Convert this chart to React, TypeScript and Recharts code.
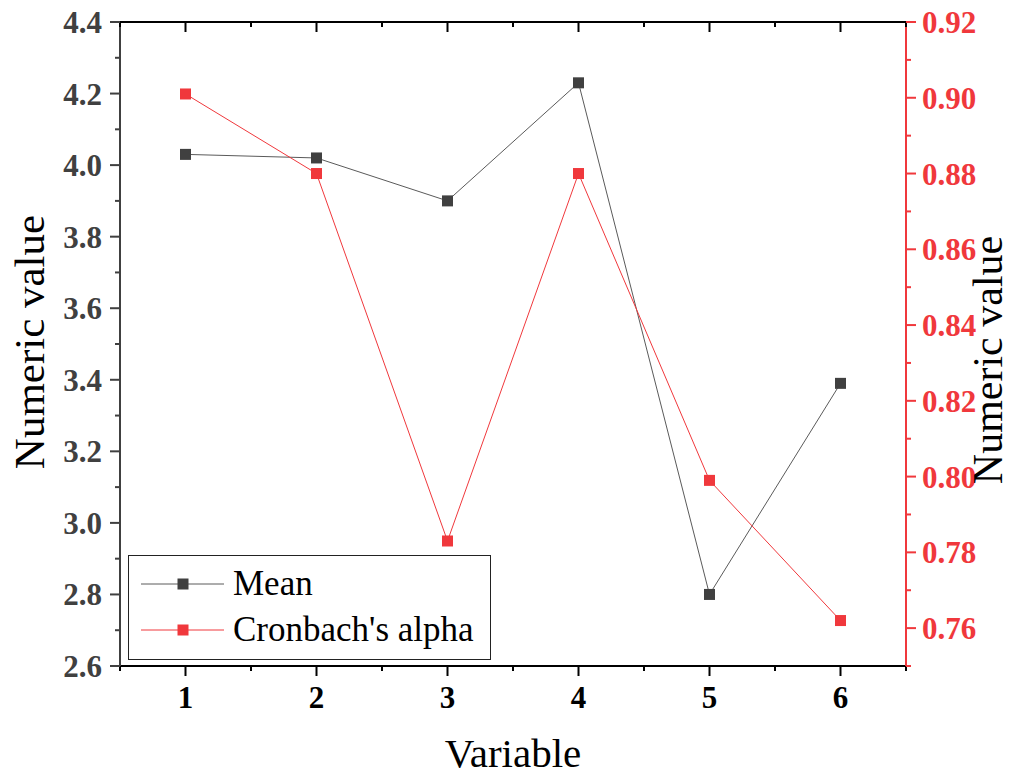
import { Line, LineChart, XAxis, YAxis } from 'recharts'

const variables = [1, 2, 3, 4, 5, 6]
const meanValues = [4.03, 4.02, 3.9, 4.23, 2.8, 3.39]
const alphaValues = [0.901, 0.88, 0.783, 0.88, 0.799, 0.762]

const xMajor = [1, 2, 3, 4, 5, 6]
const xMinor = [0.5, 1.5, 2.5, 3.5, 4.5, 5.5, 6.5]
const leftMajor = [2.6, 2.8, 3.0, 3.2, 3.4, 3.6, 3.8, 4.0, 4.2, 4.4]
const leftMinor = [2.7, 2.9, 3.1, 3.3, 3.5, 3.7, 3.9, 4.1, 4.3]
const rightMajor = [0.76, 0.78, 0.8, 0.82, 0.84, 0.86, 0.88, 0.9, 0.92]
const rightMinor = [0.75, 0.77, 0.79, 0.81, 0.83, 0.85, 0.87, 0.89, 0.91]

const FONT = "'Liberation Serif', 'Times New Roman', serif"
const GRAY = '#404040'
const RED = '#f0383c'

const data = variables.map((v, i) => ({ variable: v, mean: meanValues[i], alpha: alphaValues[i] }))

const isMajor = (list: number[], v: number) => list.some((m) => Math.abs(m - v) < 1e-9)

const BottomTick = ({ x, y, payload }: any) => {
  const major = isMajor(xMajor, payload.value)
  return (
    <g>
      <line x1={x} x2={x} y1={y} y2={y + (major ? 10 : 5)} stroke='#000' strokeWidth={2} />
      {major && (
        <text x={x} y={y + 42} textAnchor='middle' fontFamily={FONT} fontWeight='bold' fontSize={31} fill='#000'>
          {payload.value}
        </text>
      )}
    </g>
  )
}

const TopTick = ({ x, y, payload }: any) => {
  const major = isMajor(xMajor, payload.value)
  return <line x1={x} x2={x} y1={y} y2={y + (major ? 10 : 5)} stroke='#000' strokeWidth={2} />
}

const LeftTick = ({ x, y, payload }: any) => {
  const major = isMajor(leftMajor, payload.value)
  return (
    <g>
      <line x1={x - (major ? 10 : 5)} x2={x} y1={y} y2={y} stroke={GRAY} strokeWidth={2} />
      {major && (
        <text x={x - 18} y={y + 11} textAnchor='end' fontFamily={FONT} fontWeight='bold' fontSize={31} fill={GRAY}>
          {payload.value.toFixed(1)}
        </text>
      )}
    </g>
  )
}

const RightTick = ({ x, y, payload }: any) => {
  const major = isMajor(rightMajor, payload.value)
  return (
    <g>
      <line x1={x} x2={x + (major ? 10 : 5)} y1={y} y2={y} stroke={RED} strokeWidth={2} />
      {major && (
        <text x={x + 16} y={y + 11} textAnchor='start' fontFamily={FONT} fontWeight='bold' fontSize={31} fill={RED}>
          {payload.value.toFixed(2)}
        </text>
      )}
    </g>
  )
}

const square = (color: string) => (props: any) => {
  const { cx, cy, index } = props
  return <rect key={index} x={cx - 5.5} y={cy - 5.5} width={11} height={11} fill={color} />
}

const series = [
  { key: 'mean', name: 'Mean', xAxis: 'bottom', yAxis: 'left', line: '#5a5a5a', marker: GRAY },
  { key: 'alpha', name: "Cronbach's alpha", xAxis: 'top', yAxis: 'right', line: RED, marker: RED },
]

const xTicks = [...xMinor, ...xMajor].sort((a, b) => a - b)

export default function App() {
  return (
    <div style={{ position: 'fixed', left: 0, top: 0, width: 1011, height: 776, background: '#fff' }}>
      <LineChart width={1011} height={776} data={data} margin={{ top: 0, right: 0, bottom: 0, left: 0 }}>
        <XAxis
          xAxisId='bottom'
          dataKey='variable'
          type='number'
          domain={[0.5, 6.5]}
          allowDataOverflow
          ticks={xTicks}
          interval={0}
          height={110}
          tickSize={0}
          tickMargin={0}
          tickLine={false}
          axisLine={{ stroke: '#000', strokeWidth: 2 }}
          tick={<BottomTick />}
        />
        <XAxis
          xAxisId='top'
          dataKey='variable'
          orientation='top'
          type='number'
          domain={[0.5, 6.5]}
          allowDataOverflow
          ticks={xTicks}
          interval={0}
          height={22}
          tickSize={0}
          tickMargin={0}
          tickLine={false}
          axisLine={{ stroke: '#000', strokeWidth: 2 }}
          tick={<TopTick />}
        />
        <YAxis
          yAxisId='left'
          type='number'
          domain={[2.6, 4.4]}
          allowDataOverflow
          ticks={[...leftMinor, ...leftMajor].sort((a, b) => a - b)}
          interval={0}
          width={120}
          tickSize={0}
          tickMargin={0}
          tickLine={false}
          axisLine={{ stroke: GRAY, strokeWidth: 2 }}
          tick={<LeftTick />}
        />
        <YAxis
          yAxisId='right'
          orientation='right'
          type='number'
          domain={[0.75, 0.92]}
          allowDataOverflow
          ticks={[...rightMinor, ...rightMajor].sort((a, b) => a - b)}
          interval={0}
          width={105}
          tickSize={0}
          tickMargin={0}
          tickLine={false}
          axisLine={{ stroke: RED, strokeWidth: 2 }}
          tick={<RightTick />}
        />
        {series.map((s) => (
          <Line
            key={s.key}
            xAxisId={s.xAxis}
            yAxisId={s.yAxis}
            dataKey={s.key}
            name={s.name}
            type='linear'
            stroke={s.line}
            strokeWidth={1}
            dot={square(s.marker)}
            activeDot={false}
            isAnimationActive={false}
          />
        ))}
      </LineChart>
      <svg width={1011} height={776} style={{ position: 'absolute', left: 0, top: 0, pointerEvents: 'none' }}>
        <text x={513} y={767} textAnchor='middle' fontFamily={FONT} fontSize={41} fill='#000'>
          Variable
        </text>
        <text
          x={29}
          y={342}
          transform='rotate(-90, 29, 342)'
          textAnchor='middle'
          dominantBaseline='central'
          fontFamily={FONT}
          fontSize={43}
          fill='#000'
        >
          Numeric value
        </text>
        <text
          x={988}
          y={360}
          transform='rotate(-90, 988, 360)'
          textAnchor='middle'
          dominantBaseline='central'
          fontFamily={FONT}
          fontSize={42}
          fill='#000'
        >
          Numeric value
        </text>
      </svg>
      <div
        style={{
          position: 'absolute',
          left: 128,
          top: 555,
          width: 363,
          height: 105,
          border: '1.5px solid #222',
          boxSizing: 'border-box',
          background: '#fff',
          fontFamily: FONT,
          fontSize: 35,
          color: '#000',
        }}
      >
        {series.map((s, i) => (
          <div key={s.key} style={{ position: 'absolute', left: 0, top: 8 + i * 46, height: 40, display: 'flex', alignItems: 'center' }}>
            <svg width={104} height={40} style={{ display: 'block' }}>
              <line x1={12} x2={95} y1={20} y2={20} stroke={s.line} strokeWidth={1} />
              <rect x={48.5} y={14.5} width={11} height={11} fill={s.marker} />
            </svg>
            <span style={{ lineHeight: '40px', whiteSpace: 'nowrap' }}>{s.name}</span>
          </div>
        ))}
      </div>
    </div>
  )
}
